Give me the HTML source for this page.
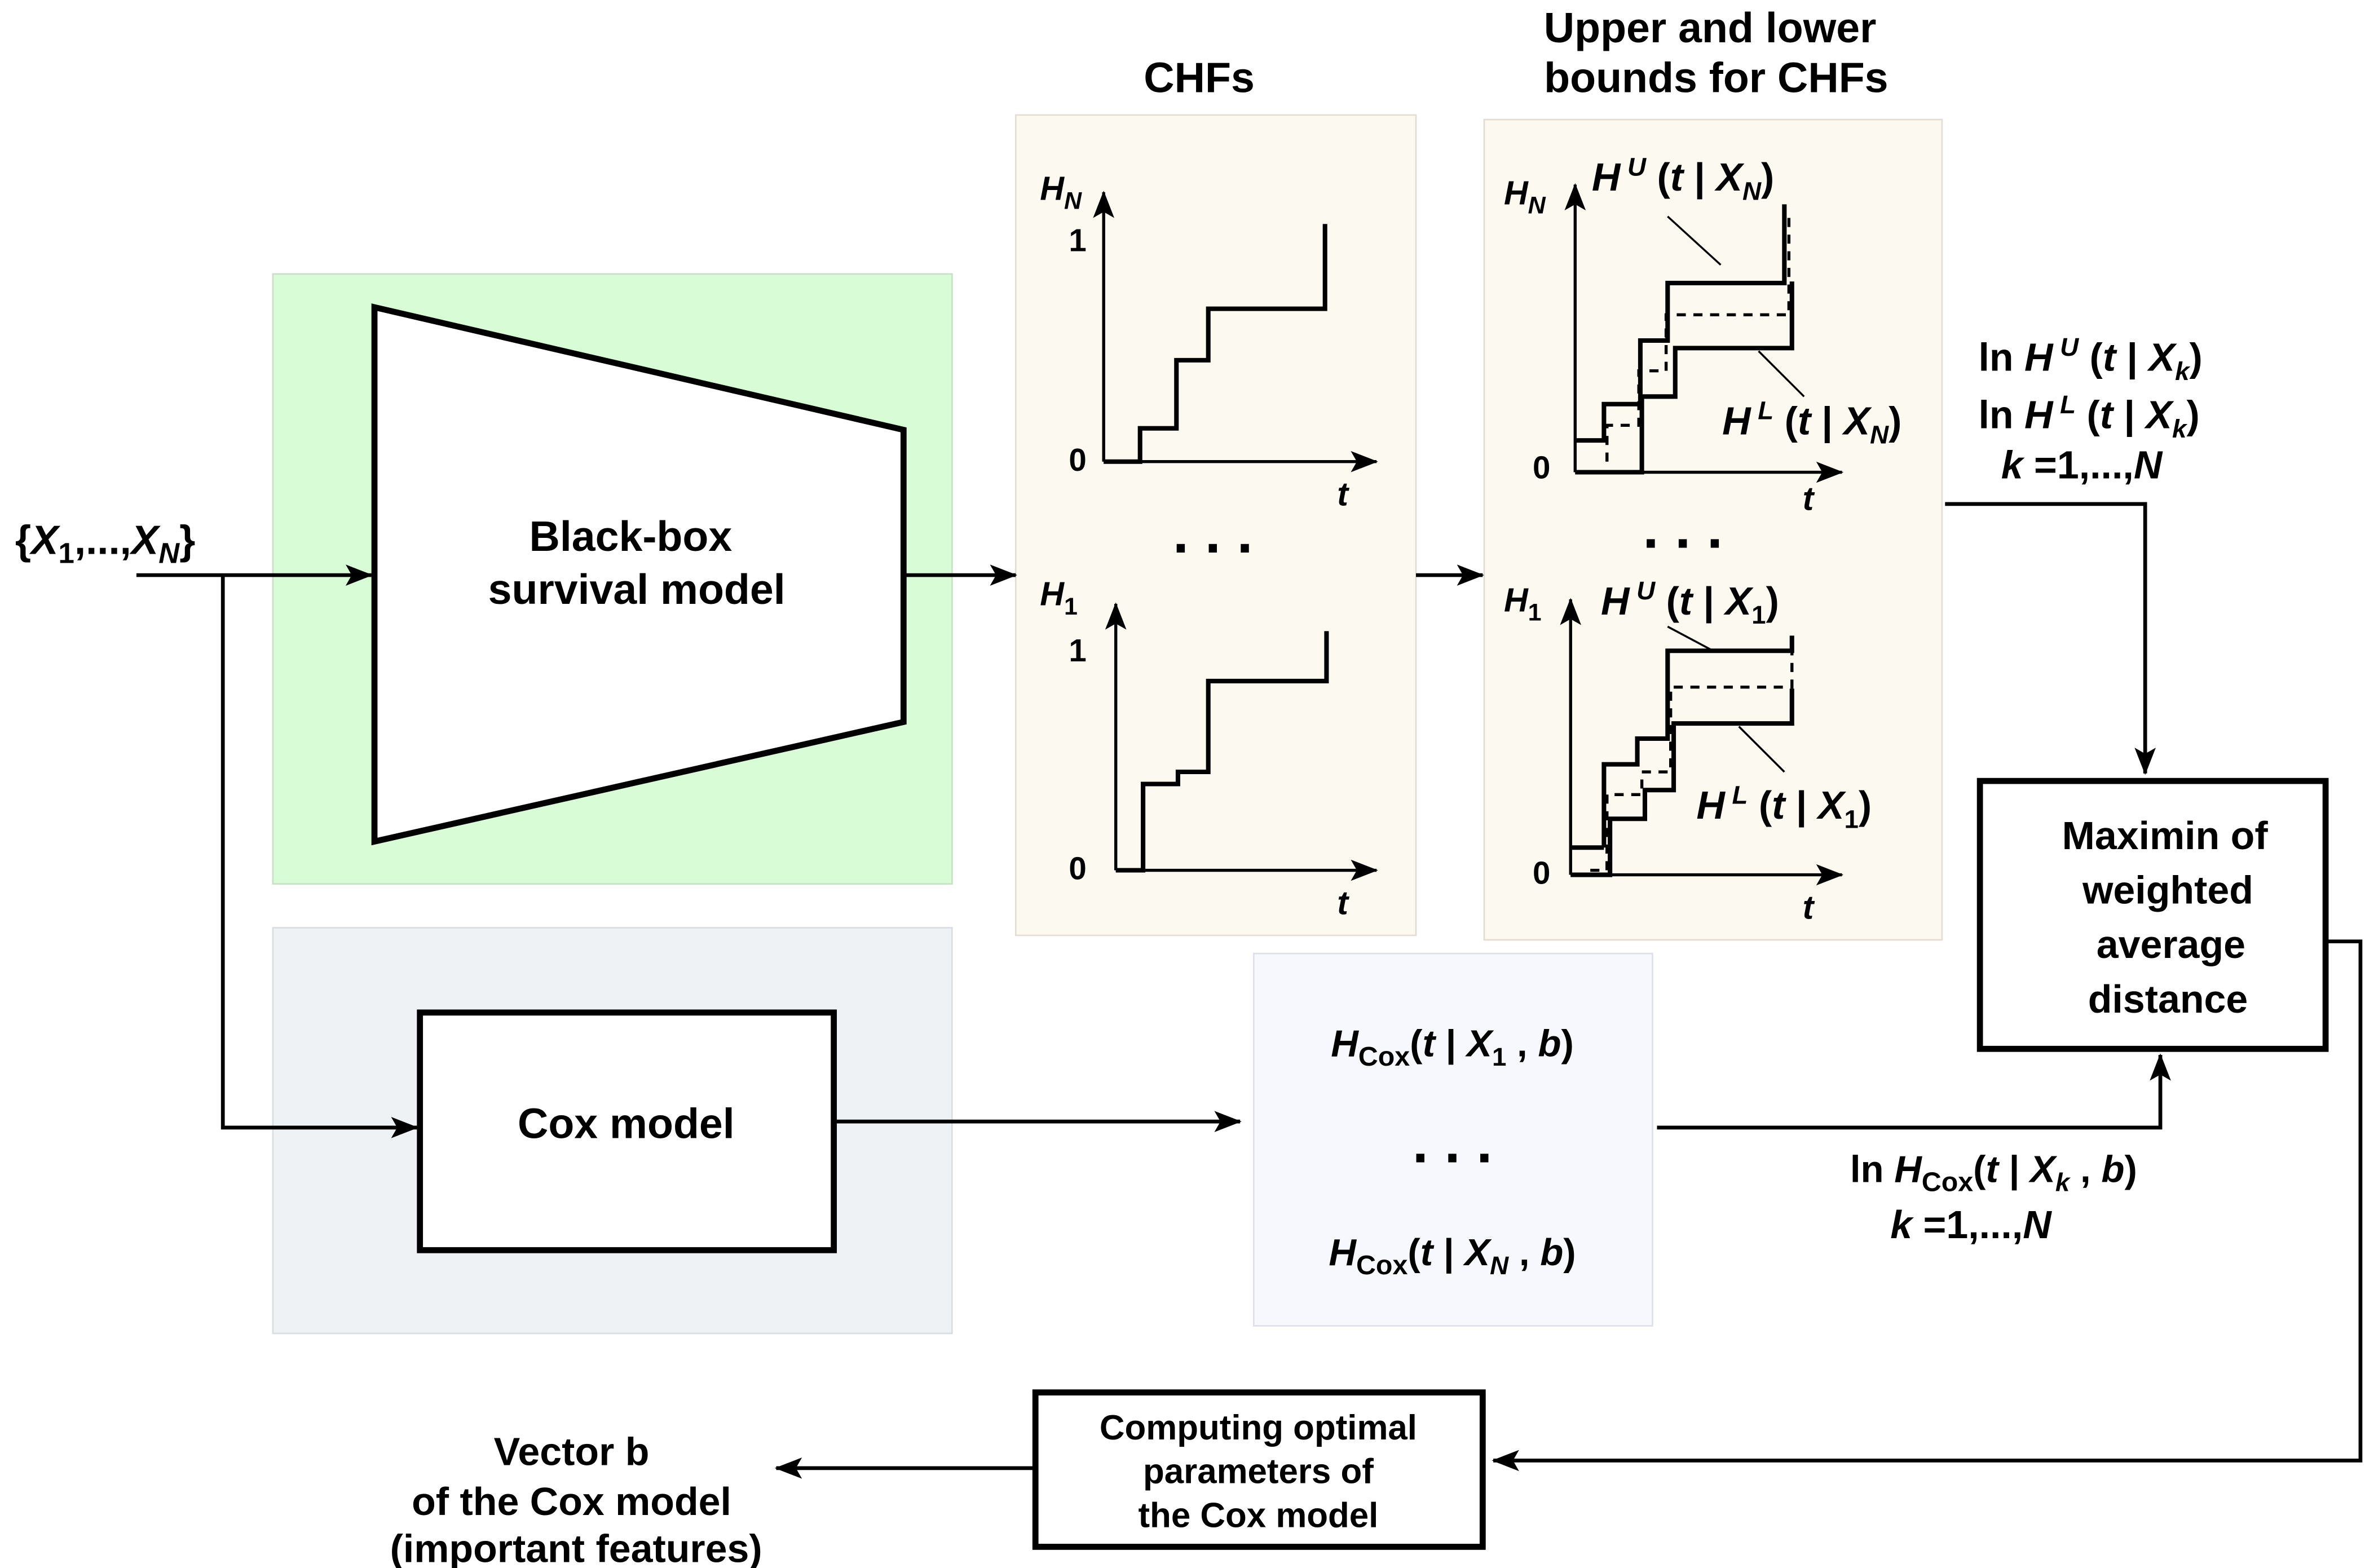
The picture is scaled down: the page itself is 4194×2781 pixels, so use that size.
<!DOCTYPE html>
<html><head><meta charset="utf-8"><style>
html,body{margin:0;padding:0;background:#fff;}
svg{display:block;}
text{font-family:"Liberation Sans",Arial,sans-serif;font-weight:bold;fill:#000;}
.i{font-style:italic;}
</style></head><body>
<svg width="4194" height="2781" viewBox="0 0 1560 1036" preserveAspectRatio="none" xmlns="http://www.w3.org/2000/svg">
<defs>
<marker id="b" markerWidth="18" markerHeight="14" refX="17" refY="7" orient="auto" markerUnits="userSpaceOnUse">
<path d="M0,0 L18,7 L0,14 L4,7 z" fill="#000"/></marker>
</defs>
<rect x="180" y="181" width="448" height="403" fill="#d8fcd6" stroke="#c8e0c6"/>
<rect x="180" y="613" width="448" height="268" fill="#eff2f5" stroke="#d8dde2"/>
<rect x="670" y="76" width="264" height="542" fill="#fcf9f0" stroke="#e2ddd0"/>
<rect x="979" y="79" width="302" height="542" fill="#fcf9f0" stroke="#e2ddd0"/>
<rect x="827" y="630" width="263" height="246" fill="#f7f8fd" stroke="#dde0ea"/>
<polygon points="247,203 596,284 596,477 247,556" fill="#fff" stroke="#000" stroke-width="4"/>
<text x="416" y="364" font-size="28" text-anchor="middle">Black-box</text>
<text x="420" y="399" font-size="28" text-anchor="middle">survival model</text>
<rect x="277" y="669" width="273" height="157" fill="#fff" stroke="#000" stroke-width="4"/>
<text x="413" y="752" font-size="28" text-anchor="middle">Cox model</text>
<text x="10" y="366" font-size="27">{<tspan class="i">X</tspan><tspan font-size="19" dy="6">1</tspan><tspan dy="-6">,...,</tspan><tspan class="i">X</tspan><tspan class="i" font-size="19" dy="6">N</tspan><tspan dy="-6">}</tspan></text>
<g stroke="#000" stroke-width="2.5" fill="none">
<line x1="90" y1="380" x2="245" y2="380" marker-end="url(#b)"/>
<polyline points="147,380 147,745 275,745" marker-end="url(#b)"/>
<line x1="596" y1="380" x2="670" y2="380" marker-end="url(#b)"/>
<line x1="934" y1="380" x2="978" y2="380" marker-end="url(#b)"/>
<line x1="550" y1="741" x2="818" y2="741" marker-end="url(#b)"/>
<polyline points="1093,745 1425,745 1425,697" marker-end="url(#b)"/>
<polyline points="1283,333 1415,333 1415,511" marker-end="url(#b)"/>
<polyline points="1534,622 1557,622 1557,965 985,965" marker-end="url(#b)"/>
<line x1="683" y1="970" x2="512" y2="970" marker-end="url(#b)"/>
</g>
<text x="791" y="61" font-size="28" text-anchor="middle">CHFs</text>
<g stroke="#000" stroke-width="2" fill="none">
<line x1="728" y1="305" x2="728" y2="127" marker-end="url(#b)"/>
<line x1="728" y1="305" x2="908" y2="305" marker-end="url(#b)"/>
<line x1="736" y1="575" x2="736" y2="399" marker-end="url(#b)"/>
<line x1="736" y1="575" x2="908" y2="575" marker-end="url(#b)"/>
</g>
<g stroke="#000" stroke-width="3" fill="none">
<polyline points="728,305 752,305 752,283 776,283 776,238 797,238 797,204 874,204 874,148"/>
<polyline points="736,575 754,575 754,518 777,518 777,510 797,510 797,450 875,450 875,417"/>
</g>
<text x="686" y="132" font-size="22" class="i">H<tspan font-size="16" dy="6">N</tspan></text>
<text x="705" y="166" font-size="21" font-weight="normal">1</text>
<text x="705" y="311" font-size="21" font-weight="normal">0</text>
<text x="882" y="334" font-size="22" class="i">t</text>
<text x="800" y="365" font-size="38" text-anchor="middle">. . .</text>
<text x="686" y="400" font-size="22" class="i">H<tspan font-size="16" dy="6" font-style="normal">1</tspan></text>
<text x="705" y="437" font-size="21" font-weight="normal">1</text>
<text x="705" y="581" font-size="21" font-weight="normal">0</text>
<text x="882" y="604" font-size="22" class="i">t</text>
<text x="1128" y="28" font-size="28" text-anchor="middle">Upper and lower</text>
<text x="1132" y="61" font-size="28" text-anchor="middle">bounds for CHFs</text>
<g stroke="#000" stroke-width="2" fill="none">
<line x1="1039" y1="312" x2="1039" y2="122" marker-end="url(#b)"/>
<line x1="1039" y1="312" x2="1215" y2="312" marker-end="url(#b)"/>
<line x1="1036" y1="578" x2="1036" y2="396" marker-end="url(#b)"/>
<line x1="1036" y1="578" x2="1215" y2="578" marker-end="url(#b)"/>
<line x1="1100" y1="143" x2="1135" y2="175" stroke-width="1.3"/>
<line x1="1160" y1="232" x2="1190" y2="262" stroke-width="1.3"/>
<line x1="1100" y1="414" x2="1130" y2="430" stroke-width="1.3"/>
<line x1="1147" y1="480" x2="1177" y2="510" stroke-width="1.3"/>
</g>
<g stroke="#000" stroke-width="3" fill="none">
<polyline points="1040,291 1058,291 1058,267 1082,267 1082,225 1100,225 1100,187 1177,187 1177,135"/>
<polyline points="1039,312 1083,312 1083,262 1105,262 1105,230 1182,230 1182,186"/>
<polyline points="1058,560 1058,505 1080,505 1080,488 1100,488 1100,430 1182,430 1182,420"/>
<polyline points="1036,560 1058,560"/>
<polyline points="1036,578 1062,578 1062,541 1085,541 1085,522 1104,522 1104,478 1182,478 1182,455"/>
</g>
<g stroke="#000" stroke-width="2" fill="none" stroke-dasharray="6,5">
<polyline points="1060,305 1060,281 1081,281 1081,245 1099,245 1099,208 1180,208 1180,140"/>
<polyline points="1049,575 1060,575 1060,525 1083,525 1083,510 1102,510 1102,454 1182,454 1182,425"/>
</g>
<text x="992" y="135" font-size="22" class="i">H<tspan font-size="16" dy="6">N</tspan></text>
<text x="1011" y="316" font-size="21" font-weight="normal">0</text>
<text x="1189" y="337" font-size="22" class="i">t</text>
<text x="1050" y="126" font-size="26"><tspan class="i">H</tspan><tspan class="i" font-size="17" dy="-10"> U</tspan><tspan dy="10"> (</tspan><tspan class="i">t</tspan> | <tspan class="i">X</tspan><tspan class="i" font-size="17" dy="6">N</tspan><tspan dy="-6">)</tspan></text>
<text x="1136" y="287" font-size="26"><tspan class="i">H</tspan><tspan class="i" font-size="17" dy="-10"> L</tspan><tspan dy="10"> (</tspan><tspan class="i">t</tspan> | <tspan class="i">X</tspan><tspan class="i" font-size="17" dy="6">N</tspan><tspan dy="-6">)</tspan></text>
<text x="1110" y="362" font-size="38" text-anchor="middle">. . .</text>
<text x="992" y="404" font-size="22" class="i">H<tspan font-size="16" dy="6" font-style="normal">1</tspan></text>
<text x="1011" y="584" font-size="21" font-weight="normal">0</text>
<text x="1189" y="607" font-size="22" class="i">t</text>
<text x="1056" y="406" font-size="26"><tspan class="i">H</tspan><tspan class="i" font-size="17" dy="-10"> U</tspan><tspan dy="10"> (</tspan><tspan class="i">t</tspan> | <tspan class="i">X</tspan><tspan font-size="17" dy="6">1</tspan><tspan dy="-6">)</tspan></text>
<text x="1119" y="541" font-size="26"><tspan class="i">H</tspan><tspan class="i" font-size="17" dy="-10"> L</tspan><tspan dy="10"> (</tspan><tspan class="i">t</tspan> | <tspan class="i">X</tspan><tspan font-size="17" dy="6">1</tspan><tspan dy="-6">)</tspan></text>
<text x="1305" y="245" font-size="26">ln <tspan class="i">H</tspan><tspan class="i" font-size="17" dy="-10"> U</tspan><tspan dy="10"> (</tspan><tspan class="i">t</tspan> | <tspan class="i">X</tspan><tspan class="i" font-size="17" dy="6">k</tspan><tspan dy="-6">)</tspan></text>
<text x="1305" y="283" font-size="26">ln <tspan class="i">H</tspan><tspan class="i" font-size="17" dy="-10"> L</tspan><tspan dy="10"> (</tspan><tspan class="i">t</tspan> | <tspan class="i">X</tspan><tspan class="i" font-size="17" dy="6">k</tspan><tspan dy="-6">)</tspan></text>
<text x="1320" y="316" font-size="26"><tspan class="i">k</tspan> =1,...,<tspan class="i">N</tspan></text>
<rect x="1306" y="516" width="228" height="177" fill="#fff" stroke="#000" stroke-width="4"/>
<text x="1428" y="561" font-size="26" text-anchor="middle">Maximin of</text>
<text x="1430" y="597" font-size="26" text-anchor="middle">weighted</text>
<text x="1432" y="633" font-size="26" text-anchor="middle">average</text>
<text x="1430" y="669" font-size="26" text-anchor="middle">distance</text>
<text x="958" y="698" font-size="25" text-anchor="middle"><tspan class="i">H</tspan><tspan font-size="18" dy="6">Cox</tspan><tspan dy="-6">(</tspan><tspan class="i">t</tspan> | <tspan class="i">X</tspan><tspan font-size="17" dy="6">1</tspan><tspan dy="-6"> , </tspan><tspan class="i">b</tspan>)</text>
<text x="958" y="768" font-size="38" text-anchor="middle">. . .</text>
<text x="958" y="836" font-size="25" text-anchor="middle"><tspan class="i">H</tspan><tspan font-size="18" dy="6">Cox</tspan><tspan dy="-6">(</tspan><tspan class="i">t</tspan> | <tspan class="i">X</tspan><tspan class="i" font-size="17" dy="6">N</tspan><tspan dy="-6"> , </tspan><tspan class="i">b</tspan>)</text>
<text x="1315" y="781" font-size="25" text-anchor="middle">ln <tspan class="i">H</tspan><tspan font-size="18" dy="6">Cox</tspan><tspan dy="-6">(</tspan><tspan class="i">t</tspan> | <tspan class="i">X</tspan><tspan class="i" font-size="17" dy="6">k</tspan><tspan dy="-6"> , </tspan><tspan class="i">b</tspan>)</text>
<text x="1300" y="818" font-size="26" text-anchor="middle"><tspan class="i">k</tspan> =1,...,<tspan class="i">N</tspan></text>
<rect x="683" y="920" width="295" height="102" fill="#fff" stroke="#000" stroke-width="4"/>
<text x="830" y="951" font-size="23" text-anchor="middle">Computing optimal</text>
<text x="830" y="980" font-size="23" text-anchor="middle">parameters of</text>
<text x="830" y="1009" font-size="23" text-anchor="middle">the Cox model</text>
<text x="377" y="968" font-size="26" text-anchor="middle">Vector b</text>
<text x="377" y="1001" font-size="26" text-anchor="middle">of the Cox model</text>
<text x="380" y="1032" font-size="26" text-anchor="middle">(important features)</text>
</svg>
</body></html>
